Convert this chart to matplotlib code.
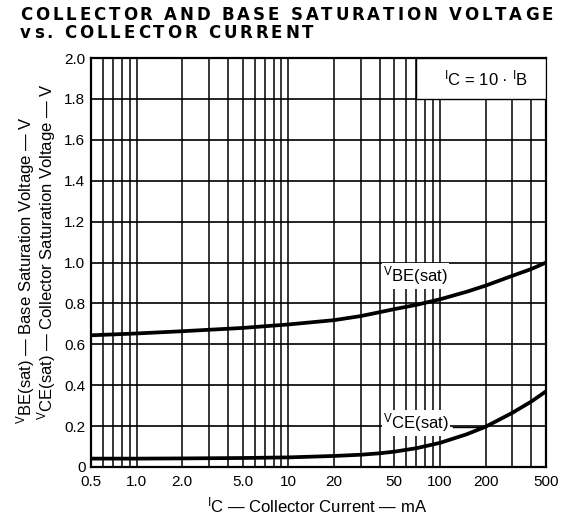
import matplotlib
matplotlib.use("Agg")
import matplotlib.pyplot as plt
from matplotlib.patches import Rectangle
from matplotlib.ticker import FixedLocator, NullFormatter
from matplotlib.transforms import IdentityTransform

plt.rcParams['font.family'] = ['Liberation Sans', 'DejaVu Sans']
plt.rcParams['mathtext.fontset'] = 'custom'
plt.rcParams['mathtext.rm'] = 'Liberation Sans'

# collector current, mA
ic = [0.5, 1, 2, 5, 10, 20, 30, 40, 50, 70, 100, 150, 200, 300, 400, 500]
# base-emitter saturation voltage, V
vbe = [0.644, 0.653, 0.664, 0.68, 0.697, 0.718, 0.738, 0.757, 0.772, 0.793,
       0.82, 0.857, 0.887, 0.935, 0.968, 1.0]
# collector-emitter saturation voltage, V
vce = [0.041, 0.041, 0.042, 0.044, 0.047, 0.054, 0.06, 0.067, 0.075, 0.092,
       0.118, 0.16, 0.197, 0.265, 0.32, 0.37]

x_major = [0.5, 1, 2, 5, 10, 20, 50, 100, 200, 500]
x_labels = ['0.5', '1.0', '2.0', '5.0', '10', '20', '50', '100', '200', '500']
x_minor = [0.6, 0.7, 0.8, 0.9, 3, 4, 6, 7, 8, 9, 30, 40, 60, 70, 80, 90, 300, 400]
y_ticks = [0, 0.2, 0.4, 0.6, 0.8, 1.0, 1.2, 1.4, 1.6, 1.8, 2.0]
y_labels = ['0', '0.2', '0.4', '0.6', '0.8', '1.0', '1.2', '1.4', '1.6', '1.8', '2.0']

# small raised letter in front of a normal-size suffix, as on the data sheet
V = r'$\mathregular{{}^{V}}$'
I = r'$\mathregular{{}^{I}}$'

W, H = 570, 522
fig = plt.figure(figsize=(W / 100, H / 100), dpi=100)
ax = fig.add_axes([91 / W, 1 - 467 / H, (546 - 91) / W, (467 - 58) / H])

ax.set_xscale('log')
ax.set_xlim(0.5, 500)
ax.set_ylim(0, 2.0)
ax.xaxis.set_major_locator(FixedLocator(x_major))
ax.xaxis.set_minor_locator(FixedLocator(x_minor))
ax.xaxis.set_minor_formatter(NullFormatter())
ax.set_xticklabels(x_labels)
ax.set_yticks(y_ticks)
ax.set_yticklabels(y_labels)
ax.tick_params(which='both', length=0, labelsize=11, colors='black')
ax.tick_params(axis='x', pad=6)
ax.tick_params(axis='y', pad=4)
ax.grid(True, which='both', axis='x', color='black', lw=1.1)
ax.grid(True, which='major', axis='y', color='black', lw=1.2)
for s in ax.spines.values():
    s.set_linewidth(1.6)

ax.plot(ic, vbe, color='black', lw=2.7, zorder=4, solid_capstyle='butt')
ax.plot(ic, vce, color='black', lw=2.7, zorder=4, solid_capstyle='butt')

# condition box, top right
ax.add_patch(Rectangle((70, 1.8), 430, 0.2, facecolor='white', edgecolor='black',
                       lw=1.0, zorder=3))
ax.text(200, 1.9, I + 'C = 10 · ' + I + 'B', fontsize=12,
        ha='center', va='center', zorder=5)

ax.text(42, 0.935, V + 'BE(sat)', fontsize=12, ha='left', va='center', zorder=5,
        bbox=dict(facecolor='white', edgecolor='none', pad=1))
ax.text(42, 0.215, V + 'CE(sat)', fontsize=12, ha='left', va='center', zorder=5,
        bbox=dict(facecolor='white', edgecolor='none', pad=1))
ax.plot([122, 185], [0.195, 0.195], color='black', lw=1.0, zorder=4)

# axis titles
fig.text(26 / W, 1 - 424 / H, V + 'BE(sat) — Base Saturation Voltage — V',
         rotation=90, fontsize=12, ha='center', va='bottom')
fig.text(47 / W, 1 - 420 / H, V + 'CE(sat) — Collector Saturation Voltage — V',
         rotation=90, fontsize=12, ha='center', va='bottom')
fig.text(317 / W, 1 - 505 / H, I + 'C — Collector Current — mA',
         fontsize=12, ha='center', va='center')

# letter-spaced bold title
r = fig.canvas.get_renderer()
title1 = 'COLLECTOR AND BASE SATURATION VOLTAGE'
title2 = 'vs. COLLECTOR CURRENT'
tsize = 12


def measure(line):
    items = []
    for ch in line:
        if ch == ' ':
            items.append((None, tsize * 100 / 72 * 0.348))
        else:
            t = fig.text(0, 0, ch, fontsize=tsize, fontweight='bold',
                         family='DejaVu Sans', transform=IdentityTransform(),
                         va='center', ha='left')
            items.append((t, t.get_window_extent(r).width))
    return items


row1 = measure(title1)
row2 = measure(title2)
track = (553 - 20 - sum(w for _, w in row1)) / (len(row1) - 1)
for items, yc in ((row1, 15), (row2, 33)):
    x = 20
    for t, w in items:
        if t is not None:
            t.set_position((x, H - yc))
        x += w + track

fig.savefig('out.png', dpi=100)
